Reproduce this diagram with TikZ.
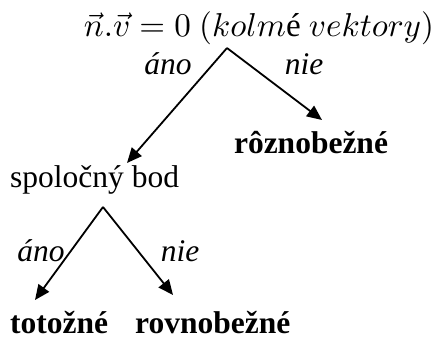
\documentclass[tikz,border=0pt]{standalone}
\usepackage{graphicx}
\usepackage{fontspec}
\setmainfont{Liberation Serif}
\usetikzlibrary{arrows.meta}
\begin{document}
\begin{tikzpicture}[x=1pt,y=1pt,
  arr/.style={line width=1.8pt,-{Triangle[length=15pt,width=13pt]}},
  txt/.style={inner sep=0pt,anchor=base,font=\fontsize{31.5}{36}\selectfont},
  bld/.style={inner sep=0pt,anchor=base,font=\fontsize{31.5}{36}\selectfont\bfseries},
  itl/.style={inner sep=0pt,anchor=base,font=\fontsize{31.5}{36}\selectfont\itshape}]
\useasboundingbox (0,0) rectangle (437,340);
% nodes
\node[inner sep=0pt,anchor=base] (top) at (259,303) {\resizebox{350pt}{!}{\normalsize$\vec{n}.\vec{v}=0\ (kolm\mbox{\upshape é}\ vektory)$}};
\node[bld] (roz) at (311,186) {rôznobežné};
\node[txt,anchor=base west] (sb) at (10,152) {spoločný bod};
\node[bld,anchor=base west] (tot) at (10,6) {totožné};
\node[bld,anchor=base west] (rov) at (135,6) {rovnobežné};
% labels
\node[itl] (a1) at (168,265) {áno};
\node[itl] (n1) at (304,265) {nie};
\node[itl] (a2) at (41,78) {áno};
\node[itl] (n2) at (180,78) {nie};
% connector points
\coordinate (s1) at (227,292);
\coordinate (t1) at (127,177);
\coordinate (t2) at (322,220);
\coordinate (s2) at (103,133);
\coordinate (t3) at (35,40);
\coordinate (t4) at (173,45);
\draw[arr] (s1) -- (t1);
\draw[arr] (s1) -- (t2);
\draw[arr] (s2) -- (t3);
\draw[arr] (s2) -- (t4);
\end{tikzpicture}
\end{document}
